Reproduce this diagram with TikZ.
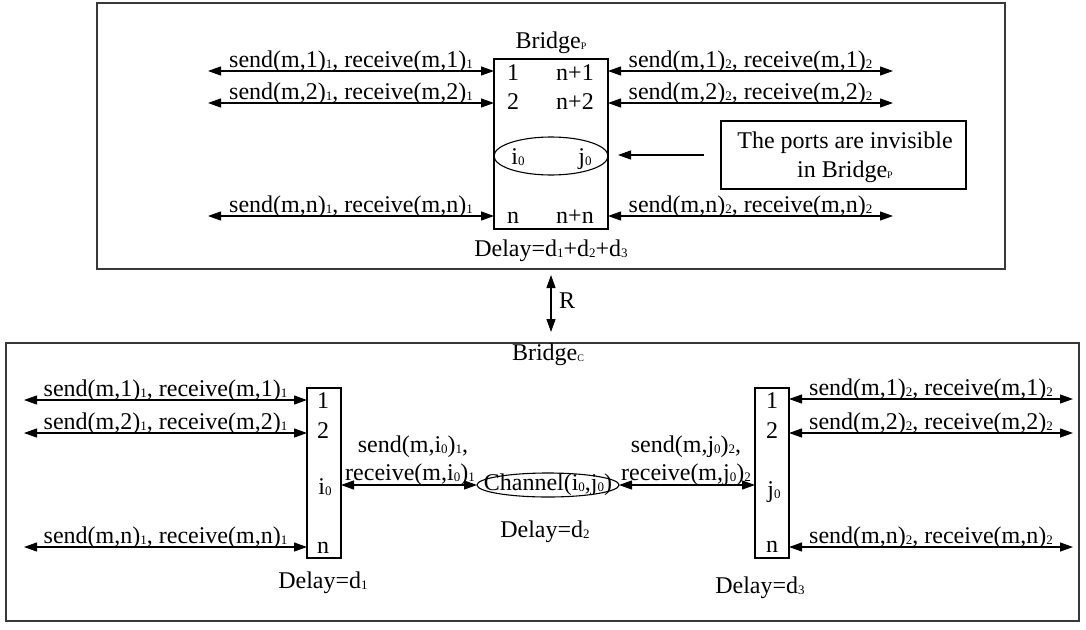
\documentclass[tikz,border=0pt]{standalone}
\usepackage{fontspec}
\setmainfont{Liberation Serif}
\usetikzlibrary{arrows.meta,shapes.geometric}
% small lowered index, as used after port names
\newcommand{\sbs}[1]{\raisebox{-1.5pt}{\fontsize{13}{13}\selectfont #1}}
% tiny index for bridge names
\newcommand{\tsb}[1]{\raisebox{-1pt}{\fontsize{10}{10}\selectfont #1}}

\begin{document}
\begin{tikzpicture}[x=1pt,y=-1pt,
  every node/.style={font=\fontsize{24}{29}\selectfont, inner sep=0pt, outer sep=0pt},
  frame/.style={draw=black!78, line width=1.7pt, rectangle},
  portbox/.style={draw, line width=1.1pt, rectangle},
  oval/.style={draw, line width=1.1pt, ellipse},
  biarrow/.style={line width=1.2pt, {Triangle[length=13pt,width=9pt]}-{Triangle[length=13pt,width=9pt]}},
  onearrow/.style={line width=1.2pt, -{Triangle[length=13pt,width=9pt]}},
  lbl/.style={anchor=base, yshift=4pt},
  txt/.style={anchor=base},
]
\useasboundingbox (0,0) rectangle (1086,629);

% ---------- upper part: Bridge_P ----------
\node[frame, minimum width=908pt, minimum height=266pt] (outerP) at (551,136) {};
\node[portbox, minimum width=114pt, minimum height=170pt] (bp) at (551,144) {};
\node[oval, minimum width=114pt, minimum height=38pt] (inv) at (551,156) {};

\node[txt] (bpname) at (551,48) {Bridge\tsb{P}};
\node[txt] (bpdelay) at (551,256) {Delay=d\sbs{1}+d\sbs{2}+d\sbs{3}};

\node[txt] (p1) at (513,80) {1};
\node[txt] (pn1) at (575,80) {n+1};
\node[txt] (p2) at (513,109) {2};
\node[txt] (pn2) at (575,109) {n+2};
\node[txt] (pi) at (518,164) {i\sbs{0}};
\node[txt] (pj) at (585,164) {j\sbs{0}};
\node[txt] (pn) at (513,223) {n};
\node[txt] (pnn) at (575,223) {n+n};

\coordinate (pl1) at (208,71);
\coordinate (pl2) at (208,103);
\coordinate (pln) at (208,216);
\coordinate (pr1) at (893,71);
\coordinate (pr2) at (893,103);
\coordinate (prn) at (893,216);

\draw[biarrow] (pl1) -- (pl1 -| bp.west) node[midway,lbl] {send(m,1)\sbs{1}, receive(m,1)\sbs{1}};
\draw[biarrow] (pl2) -- (pl2 -| bp.west) node[midway,lbl] {send(m,2)\sbs{1}, receive(m,2)\sbs{1}};
\draw[biarrow] (pln) -- (pln -| bp.west) node[midway,lbl] {send(m,n)\sbs{1}, receive(m,n)\sbs{1}};
\draw[biarrow] (pr1 -| bp.east) -- (pr1) node[midway,lbl] {send(m,1)\sbs{2}, receive(m,1)\sbs{2}};
\draw[biarrow] (pr2 -| bp.east) -- (pr2) node[midway,lbl] {send(m,2)\sbs{2}, receive(m,2)\sbs{2}};
\draw[biarrow] (prn -| bp.east) -- (prn) node[midway,lbl] {send(m,n)\sbs{2}, receive(m,n)\sbs{2}};

% note on the hidden ports
\node[draw, line width=1.1pt, minimum width=245pt, minimum height=68pt] (note) at (843.5,155) {};
\node[txt] (note1) at (845,148) {The ports are invisible};
\node[txt] (note2) at (845,177) {in Bridge\tsb{P}};
\coordinate (noteTail) at (704,155);
\coordinate (noteTip) at (618,155);
\draw[onearrow] (noteTail) -- (noteTip);

% ---------- relation between the two levels ----------
\coordinate (Rtop) at (551,275);
\coordinate (Rbot) at (551,332);
\draw[biarrow] (Rtop) -- (Rbot);
\node[txt] (Rlbl) at (567,308) {R};

% ---------- lower part: Bridge_C ----------
\node[frame, minimum width=1073pt, minimum height=278pt] (outerC) at (542.5,482) {};
\node[txt] (bcname) at (548,360) {Bridge\tsb{C}};

\node[portbox, minimum width=34pt, minimum height=170pt] (lb) at (324,473) {};
\node[portbox, minimum width=34pt, minimum height=170pt] (rb) at (772,473) {};
\node[oval, minimum width=142pt, minimum height=24pt] (ch) at (548,485) {};
\node[txt] (chname) at (548,490) {Channel(i\sbs{0},j\sbs{0})};

\node[txt] (l1) at (323,408) {1};
\node[txt] (l2) at (323,438) {2};
\node[txt] (li) at (325,494) {i\sbs{0}};
\node[txt] (ln) at (323,553) {n};
\node[txt] (r1) at (772,408) {1};
\node[txt] (r2) at (772,438) {2};
\node[txt] (rj) at (774,497) {j\sbs{0}};
\node[txt] (rn) at (772,552) {n};

\node[txt] (d1) at (323,588) {Delay=d\sbs{1}};
\node[txt] (d2) at (545,537) {Delay=d\sbs{2}};
\node[txt] (d3) at (760,593) {Delay=d\sbs{3}};

\coordinate (ql1) at (24,400);
\coordinate (ql2) at (24,433);
\coordinate (qln) at (24,547);
\coordinate (qr1) at (1073,399);
\coordinate (qr2) at (1073,433);
\coordinate (qrn) at (1073,547);

\draw[biarrow] (ql1) -- (ql1 -| lb.west) node[midway,lbl] {send(m,1)\sbs{1}, receive(m,1)\sbs{1}};
\draw[biarrow] (ql2) -- (ql2 -| lb.west) node[midway,lbl] {send(m,2)\sbs{1}, receive(m,2)\sbs{1}};
\draw[biarrow] (qln) -- (qln -| lb.west) node[midway,lbl] {send(m,n)\sbs{1}, receive(m,n)\sbs{1}};
\draw[biarrow] (qr1 -| rb.east) -- (qr1) node[midway,lbl] {send(m,1)\sbs{2}, receive(m,1)\sbs{2}};
\draw[biarrow] (qr2 -| rb.east) -- (qr2) node[midway,lbl] {send(m,2)\sbs{2}, receive(m,2)\sbs{2}};
\draw[biarrow] (qrn -| rb.east) -- (qrn) node[midway,lbl] {send(m,n)\sbs{2}, receive(m,n)\sbs{2}};

% links to the channel
\draw[biarrow] (ch.west -| lb.east) -- (ch.west);
\draw[biarrow] (ch.east) -- (ch.east -| rb.west);
\node[txt] (cl1) at (413,452) {send(m,i\sbs{0})\sbs{1},};
\node[txt] (cl2) at (410,480) {receive(m,i\sbs{0})\sbs{1}};
\node[txt] (cr1) at (686,452) {send(m,j\sbs{0})\sbs{2},};
\node[txt] (cr2) at (686,480) {receive(m,j\sbs{0})\sbs{2}};
\end{tikzpicture}
\end{document}
